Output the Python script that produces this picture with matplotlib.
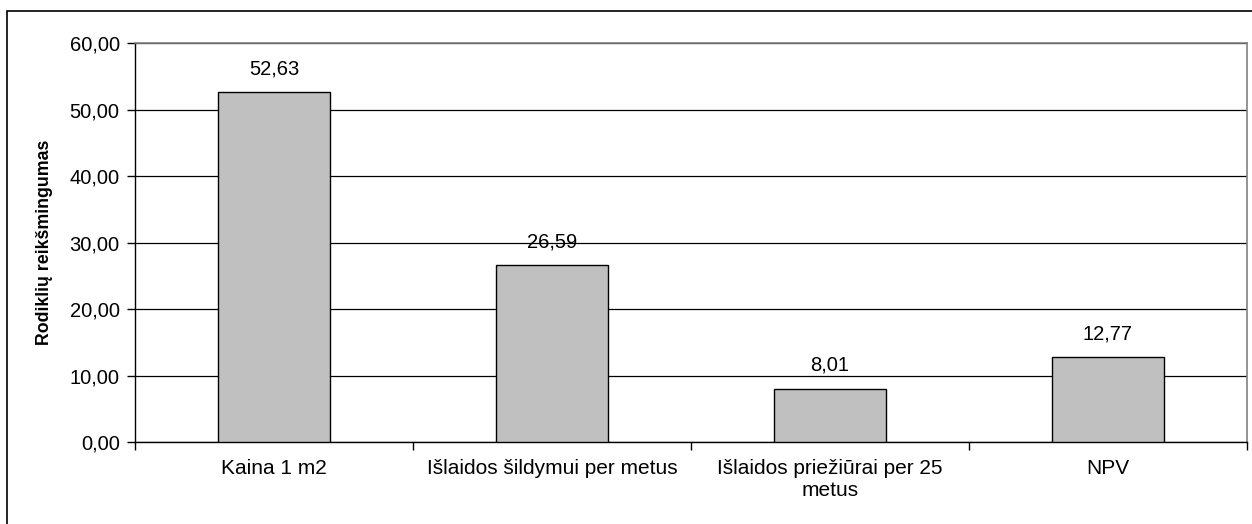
import matplotlib.pyplot as plt
from matplotlib.patches import Rectangle
from matplotlib.ticker import FuncFormatter, FixedLocator

plt.rcParams['font.family'] = ['Liberation Sans', 'DejaVu Sans']

categories = ["Kaina 1 m2", "Išlaidos šildymui per metus",
              "Išlaidos priežiūrai per 25\nmetus", "NPV"]
values = [52.63, 26.59, 8.01, 12.77]
y_ticks = [0, 10, 20, 30, 40, 50, 60]

W, H = 1252, 524
fig = plt.figure(figsize=(W / 100, H / 100), dpi=100)
ax = fig.add_axes([135 / W, 1 - 442 / H, (1247 - 135) / W, (442 - 43) / H])

x = range(len(categories))
bars = ax.bar(x, values, width=0.4, color="#c0c0c0", edgecolor="black",
              linewidth=1.0, zorder=3)
for b, v in zip(bars, values):
    ax.annotate(f"{v:.2f}".replace(".", ","), (b.get_x() + b.get_width() / 2, v),
                xytext=(0, 10), textcoords="offset points",
                ha="center", va="bottom", fontsize=14.5)

ax.set_xlim(-0.5, len(categories) - 0.5)
ax.set_ylim(0, 60)
ax.set_yticks(y_ticks)
ax.yaxis.set_major_formatter(FuncFormatter(lambda v, p: f"{v:.2f}".replace(".", ",")))
ax.grid(axis="y", color="black", linewidth=0.9, zorder=0)

# tick marks between categories, labels centred under bars
ax.xaxis.set_major_locator(FixedLocator([i - 0.5 for i in range(len(categories) + 1)]))
ax.xaxis.set_major_formatter(FuncFormatter(lambda v, p: ""))
ax.set_xticks(list(x), categories, minor=True)
ax.tick_params(axis="x", which="minor", length=0, pad=12, labelsize=15)
ax.tick_params(axis="x", which="major", length=6, width=1)
ax.tick_params(axis="y", length=6, width=1, labelsize=14.5, pad=5)

ax.set_ylabel("Rodiklių reikšmingumas", fontsize=12.8, fontweight="bold", labelpad=12)

for s in ["top", "right"]:
    ax.spines[s].set_color("#808080")
    ax.spines[s].set_linewidth(1.2)
for s in ["left", "bottom"]:
    ax.spines[s].set_color("black")
    ax.spines[s].set_linewidth(1.0)

# outer chart border
fig.patches.append(Rectangle((7 / W, -0.1), 1.2, 1 - 11 / H + 0.1,
                             transform=fig.transFigure, fill=False,
                             edgecolor="black", linewidth=1.2))

fig.savefig("out.png", dpi=100)
